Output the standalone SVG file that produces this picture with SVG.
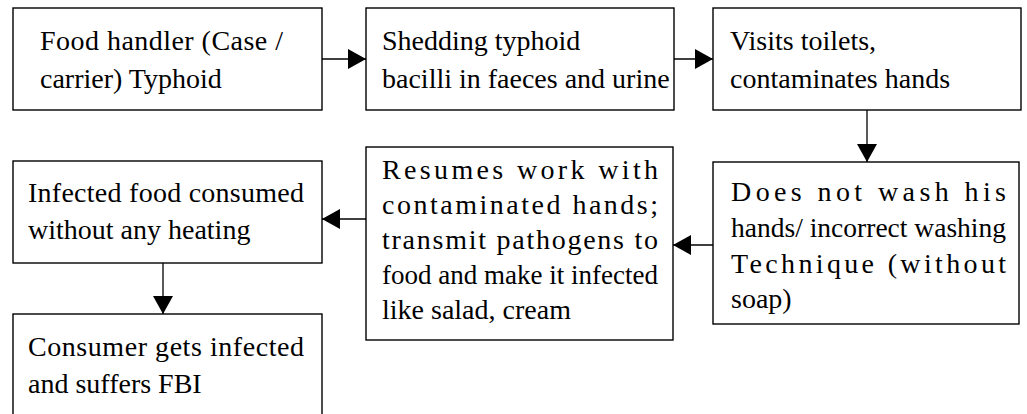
<svg xmlns="http://www.w3.org/2000/svg" width="1027" height="414" viewBox="0 0 1027 414">
<style>
.box{fill:#fff;stroke:#000;stroke-width:1.4}
.c{stroke:#000;stroke-width:1.3;fill:none}
.t{font-family:'Liberation Serif','Times New Roman',serif;font-size:28px;fill:#000}
</style>
<defs>
<marker id="ah" markerUnits="userSpaceOnUse" markerWidth="18" markerHeight="20" refX="18" refY="10" orient="auto" viewBox="0 0 18 20">
<path d="M0,0 L18,10 L0,20 Z" fill="#000"/>
</marker>
</defs>
<rect width="1027" height="414" fill="#fff"/>
<g id="connectors">
<line class="c" x1="322" y1="59" x2="366" y2="59" marker-end="url(#ah)"/>
<line class="c" x1="674" y1="59" x2="713" y2="59" marker-end="url(#ah)"/>
<line class="c" x1="867" y1="110" x2="867" y2="162" marker-end="url(#ah)"/>
<line class="c" x1="713" y1="245" x2="673" y2="245" marker-end="url(#ah)"/>
<line class="c" x1="366" y1="219" x2="322" y2="219" marker-end="url(#ah)"/>
<line class="c" x1="163" y1="263" x2="163" y2="314" marker-end="url(#ah)"/>
</g>
<g id="n1">
<rect class="box" x="13" y="8" width="309" height="102"/>
<text class="t" x="40" y="50" textLength="243" lengthAdjust="spacing">Food handler (Case /</text>
<text class="t" x="40" y="88">carrier) Typhoid</text>
</g>
<g id="n2">
<rect class="box" x="366" y="8" width="308" height="102"/>
<text class="t" x="382" y="50">Shedding typhoid</text>
<text class="t" x="382" y="88">bacilli in faeces and urine</text>
</g>
<g id="n3">
<rect class="box" x="713" y="8" width="308" height="102"/>
<text class="t" x="730" y="50">Visits toilets,</text>
<text class="t" x="730" y="88">contaminates hands</text>
</g>
<g id="n4">
<rect class="box" x="713" y="162" width="306" height="162"/>
<text class="t" x="731" y="201" textLength="275" lengthAdjust="spacing">Does not wash his</text>
<text class="t" x="731" y="237" textLength="275" lengthAdjust="spacingAndGlyphs">hands/ incorrect washing</text>
<text class="t" x="731" y="273" textLength="275" lengthAdjust="spacing">Technique (without</text>
<text class="t" x="731" y="308">soap)</text>
</g>
<g id="n5">
<rect class="box" x="366" y="147" width="307" height="193"/>
<text class="t" x="382" y="179" textLength="276" lengthAdjust="spacing">Resumes work with</text>
<text class="t" x="382" y="214" textLength="276" lengthAdjust="spacing">contaminated hands;</text>
<text class="t" x="382" y="249" textLength="276" lengthAdjust="spacing">transmit pathogens to</text>
<text class="t" x="382" y="284" textLength="276" lengthAdjust="spacingAndGlyphs">food and make it infected</text>
<text class="t" x="382" y="319">like salad, cream</text>
</g>
<g id="n6">
<rect class="box" x="13" y="161" width="309" height="102"/>
<text class="t" x="28" y="202" textLength="276" lengthAdjust="spacing">Infected food consumed</text>
<text class="t" x="28" y="239">without any heating</text>
</g>
<g id="n7">
<rect class="box" x="13" y="314" width="309" height="120"/>
<text class="t" x="28" y="356" textLength="276" lengthAdjust="spacing">Consumer gets infected</text>
<text class="t" x="28" y="393">and suffers FBI</text>
</g>
</svg>
